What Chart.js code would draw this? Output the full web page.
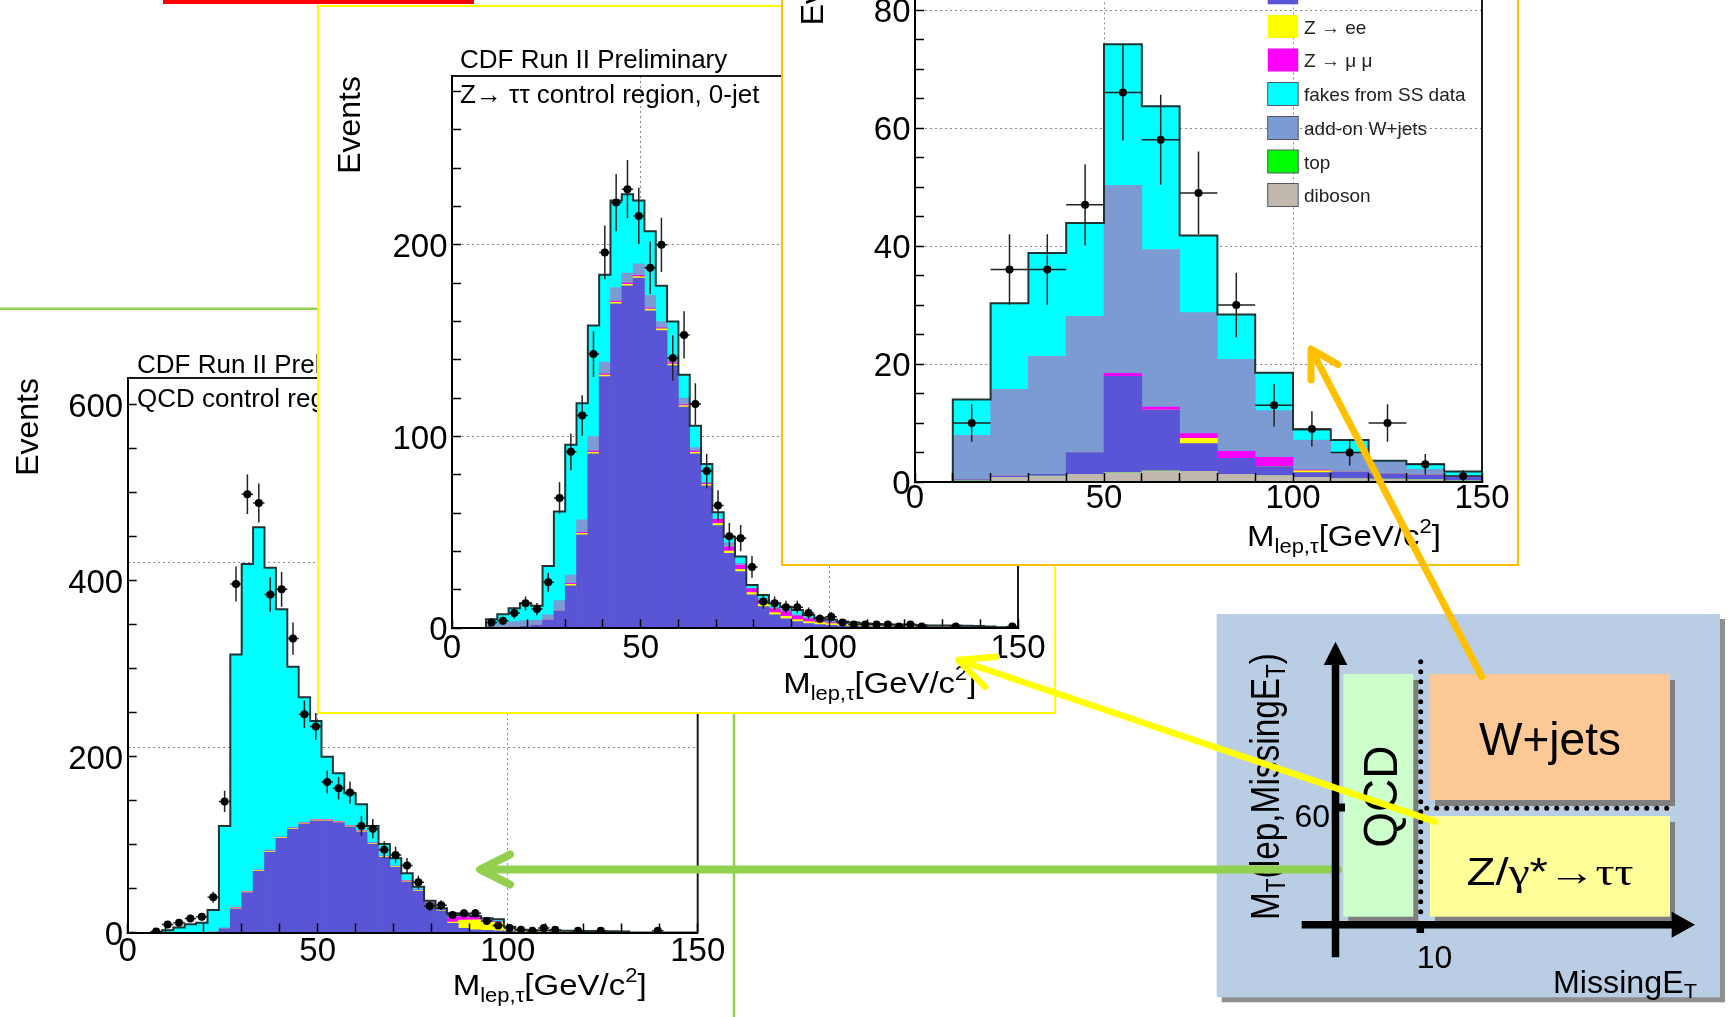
<!DOCTYPE html>
<html lang="en">
<head>
<meta charset="utf-8">
<title>CDF control regions</title>
<script src="https://cdn.jsdelivr.net/npm/chart.js@4.4.1/dist/chart.umd.min.js"></script>
<style>
  html, body { margin: 0; padding: 0; background: #fff; }
  body { position: relative; width: 1730px; height: 1017px; overflow: hidden; }
  canvas, svg, .panel { position: absolute; }
  svg { left: 0; top: 0; overflow: visible; font-family: 'Liberation Sans', Arial, sans-serif; fill: #000; }
  .panel { background: #fff; box-sizing: border-box; }
  #panel2 { left: 316.7px; top: 5.3px; width: 739px; height: 708.7px; border: 2px solid #ffff00; }
  #panel3 { left: 780.7px; top: -20px; width: 738.3px; height: 586px; border: 2px solid #ffc000; }
</style>
</head>
<body>

<!-- QCD control region (bottom layer) -->
<canvas id="qcdChart"></canvas>
<svg width="1730" height="1017">
  <rect x="163" y="0" width="311" height="4" fill="#ff0000"/>
  <line x1="0" y1="308.7" x2="735" y2="308.7" stroke="#92d050" stroke-width="2.5"/>
  <line x1="734" y1="308" x2="734" y2="1017" stroke="#92d050" stroke-width="2.5"/>
  <text x="137" y="373" font-size="26">CDF Run II Preliminary</text>
  <text x="137" y="407" font-size="26">QCD control region, 0-jet</text>
  <text transform="translate(38,378) rotate(-90)" text-anchor="end" font-size="32">Events</text>
  <text x="452.7" y="995" font-size="30" textLength="194" lengthAdjust="spacingAndGlyphs">M<tspan font-size="20" dy="7">lep,τ</tspan><tspan dy="-7">[GeV/c</tspan><tspan font-size="20" dy="-13">2</tspan><tspan dy="13">]</tspan></text>
</svg>

<!-- Z -> tautau control region -->
<div class="panel" id="panel2"></div>
<canvas id="zttChart"></canvas>
<svg width="1730" height="1017">
  <text x="460" y="68.3" font-size="26">CDF Run II Preliminary</text>
  <text x="460" y="103.3" font-size="26">Z→ ττ control region, 0-jet</text>
  <text transform="translate(360,76) rotate(-90)" text-anchor="end" font-size="32">Events</text>
  <text x="783.3" y="693.3" font-size="30" textLength="193" lengthAdjust="spacingAndGlyphs">M<tspan font-size="20" dy="7">lep,τ</tspan><tspan dy="-7">[GeV/c</tspan><tspan font-size="20" dy="-13">2</tspan><tspan dy="13">]</tspan></text>
</svg>

<!-- W+jets control region -->
<div class="panel" id="panel3"></div>
<canvas id="wjetsChart"></canvas>
<svg width="1730" height="1017">
  <text transform="translate(823,-72.6) rotate(-90)" text-anchor="end" font-size="32">Events</text>
  <text x="1247" y="546" font-size="30" textLength="194" lengthAdjust="spacingAndGlyphs">M<tspan font-size="20" dy="7">lep,τ</tspan><tspan dy="-7">[GeV/c</tspan><tspan font-size="20" dy="-13">2</tspan><tspan dy="13">]</tspan></text>
  <g font-size="19" fill="#222">
    <circle cx="1283" cy="-41" r="4" fill="#000"/><text x="1304" y="-34">data</text>
    <rect x="1267.7" y="-18.7" width="30.5" height="23" fill="#5a55d6"/><text x="1304" y="-0.2">Z → ττ</text>
    <rect x="1267.7" y="15" width="30.5" height="23" fill="#ffff00"/><text x="1304" y="33.5">Z → ee</text>
    <rect x="1267.7" y="48.5" width="30.5" height="23" fill="#ff00ff"/><text x="1304" y="67">Z → μ μ</text>
    <rect x="1267.7" y="82.5" width="30.5" height="23" fill="#00ffff" stroke="#556" stroke-width="1"/><text x="1304" y="101">fakes from SS data</text>
    <rect x="1267.7" y="116.5" width="30.5" height="23" fill="#7b9bd2" stroke="#556" stroke-width="1"/><text x="1304" y="135">add-on W+jets</text>
    <rect x="1267.7" y="150" width="30.5" height="23" fill="#00ff00" stroke="#556" stroke-width="1"/><text x="1304" y="168.5">top</text>
    <rect x="1267.7" y="183.5" width="30.5" height="23" fill="#c1b9ae" stroke="#556" stroke-width="1"/><text x="1304" y="202">diboson</text>
  </g>
</svg>

<!-- region diagram and arrows (top layer) -->
<svg width="1730" height="1017">
  <rect x="1221.7" y="619" width="503.3" height="383.3" fill="#8f8f8f"/>
  <rect x="1216.7" y="614" width="503.3" height="383.3" fill="#b9cde5"/>

  <rect x="1348.3" y="680" width="70" height="242.7" fill="#7f7f7f"/>
  <rect x="1343.3" y="674" width="70" height="242.7" fill="#ccffcc"/>
  <rect x="1435" y="680" width="240" height="126" fill="#7f7f7f"/>
  <rect x="1430" y="674" width="240" height="126" fill="#fcc996"/>
  <rect x="1435" y="822" width="240" height="100.7" fill="#7f7f7f"/>
  <rect x="1430" y="816" width="240" height="100.7" fill="#ffff99"/>

  <text transform="translate(1279,920) rotate(-90)" font-size="40" textLength="267" lengthAdjust="spacingAndGlyphs">M<tspan font-size="27" dy="6">T</tspan><tspan dy="-6">(lep,MissingE</tspan><tspan font-size="27" dy="6">T</tspan><tspan dy="-6">)</tspan></text>
  <text x="1553" y="993" font-size="31" textLength="144" lengthAdjust="spacingAndGlyphs">MissingE<tspan font-size="21" dy="5">T</tspan></text>
  <text x="1330" y="826.5" font-size="32" text-anchor="end">60</text>
  <text x="1416.7" y="968" font-size="32">10</text>
  <text transform="translate(1396.7,796.7) rotate(-90)" font-size="48" text-anchor="middle" textLength="102" lengthAdjust="spacingAndGlyphs">QCD</text>
  <text x="1550" y="755" font-size="46" text-anchor="middle" textLength="142" lengthAdjust="spacingAndGlyphs">W+jets</text>
  <text x="1550" y="885" font-size="38" text-anchor="middle" textLength="167" lengthAdjust="spacingAndGlyphs">Z/<tspan font-family="Liberation Serif">γ</tspan>*<tspan font-family="Liberation Serif">→ττ</tspan></text>

  <g stroke="#92d050" stroke-width="8" stroke-linecap="round" stroke-linejoin="round" fill="none">
    <line x1="1338" y1="869.5" x2="483" y2="869.5"/>
    <polyline points="510,854.5 480,869.5 510,884.5"/>
  </g>

  <line x1="1335.5" y1="660" x2="1335.5" y2="957.3" stroke="#000" stroke-width="7.5"/>
  <polygon points="1335.5,641.7 1323.7,665 1347.3,665" fill="#000"/>
  <line x1="1301.7" y1="924.7" x2="1675" y2="924.7" stroke="#000" stroke-width="7.5"/>
  <polygon points="1695,924.7 1671.7,911.7 1671.7,937.7" fill="#000"/>
  <line x1="1335" y1="807.5" x2="1345" y2="807.5" stroke="#000" stroke-width="8"/>
  <line x1="1420.3" y1="921" x2="1420.3" y2="933" stroke="#000" stroke-width="7.5"/>
  <g stroke="#000" stroke-width="5" stroke-linecap="round" stroke-dasharray="0 10" fill="none">
    <line x1="1420.7" y1="661.7" x2="1420.7" y2="918"/>
    <line x1="1426.7" y1="808.3" x2="1671.7" y2="808.3"/>
  </g>

  <g stroke="#ffff00" stroke-width="6.5" stroke-linecap="round" stroke-linejoin="round" fill="none">
    <line x1="1435" y1="821.7" x2="961" y2="661"/>
    <polyline points="996.7,656.7 958.3,660 985,686.7"/>
  </g>
  <g stroke="#ffc000" stroke-width="7" stroke-linecap="round" stroke-linejoin="round" fill="none">
    <line x1="1481.7" y1="676.7" x2="1312" y2="351"/>
    <polyline points="1338,364.5 1311,349 1311,380"/>
  </g>
</svg>

<script>
const FONT = "'Liberation Sans', Arial, sans-serif";
Chart.defaults.font.family = FONT;

// ---------- data ----------
// 3 GeV mass bins (centres) used in the QCD and Z->tautau control regions
const massBins3 = [7.5, 10.5, 13.5, 16.5, 19.5, 22.5, 25.5, 28.5, 31.5, 34.5, 37.5, 40.5,
  43.5, 46.5, 49.5, 52.5, 55.5, 58.5, 61.5, 64.5, 67.5, 70.5, 73.5, 76.5,
  79.5, 82.5, 85.5, 88.5, 91.5, 94.5, 97.5, 100.5, 103.5, 106.5, 109.5, 112.5,
  115.5, 118.5, 121.5, 124.5, 127.5, 130.5, 133.5, 136.5, 139.5, 142.5, 145.5, 148.5];
// 10 GeV mass bins (centres) used in the W+jets control region
const massBins10 = [15, 25, 35, 45, 55, 65, 75, 85, 95, 105, 115, 125, 135, 145];

// QCD control region, 0-jet
const qcdZtt = [0, 0, 0, 0, 0, 0.5, 4.5, 27, 45.5, 69.5, 91.5, 107, 117.5, 123.5, 127, 127,
  125, 120, 114.5, 100.5, 85.5, 74, 57.5, 47, 34, 24.5, 10.4, 4.7, 2.9, 2.5, 2, 1.5,
  0.5, 0.3, 0.2, 0.2, 0.2, 0.1, 0.1, 0.1, 0, 0, 0, 0, 0, 0, 0, 0];
const qcdZee = [0, 0, 0, 0, 0, 0, 0.3, 0.8, 0.8, 0.8, 0.8, 0.8, 0.8, 0.8, 0.8, 0.8,
  0.8, 0.8, 0.8, 0.8, 0.8, 0.8, 0.8, 0.8, 0.8, 0.8, 1.5, 9.5, 11.4, 9.5, 9.5, 4,
  2, 2, 1.8, 1.8, 1.6, 1.5, 1.5, 1.3, 1.2, 0.8, 0, 0, 0, 0, 0, 0];
const qcdZmm = [0, 0, 0, 0, 0, 0, 0.2, 0.6, 0.6, 0.6, 0.6, 0.6, 0.6, 0.6, 0.6, 0.6,
  0.6, 0.6, 0.6, 0.6, 0.6, 0.6, 0.6, 0.6, 0.6, 0.6, 5.7, 4, 3, 2, 1, 0.3,
  0, 0, 0, 0, 0, 0, 0, 0, 0, 0, 0, 0, 0, 0, 0, 0];
const qcdFakes = [0, 2.6, 5.7, 9.4, 11, 25.1, 116, 287.6, 371.9, 389.5, 321.7, 258.8, 183.1, 142.3, 111.9, 71.4,
  54.5, 36.7, 29.7, 19.1, 13.7, 8.9, 8.3, 3.7, 0.8, 1.6, 4.2, 1.7, 1.5, 2.1, 2.5, 0.8,
  0.5, 0.2, 0.2, 0.2, 0.2, 0.2, 0.2, 0.2, 0.2, 0.2, 0, 0, 0, 0, 0, 0];
const qcdData = [1, 9, 11, 16, 18, 40, 149, 396, 498, 488, 384, 390, 334, 248, 234, 171,
  164, 159, 121, 118, 94, 88, 76, 57, 30, 31, 20, 22, 22, 13, 8, 5,
  3, 2, 5, 3, null, 2, null, 2, null, null, null, null, 2, null, null, null];

// Z -> tautau control region, 0-jet
const zttDiboson = [0, 0, 0, 0, 0, 0, 0, 0, 0, 0.5, 0.5, 0.5, 0.5, 0.5, 0.5, 0.5,
  0.5, 0.5, 0.5, 0.5, 0, 0, 0, 0, 0, 0, 0, 0, 0, 0, 0, 0,
  0, 0, 0, 0, 0, 0, 0, 0, 0, 0, 0, 0, 0, 0, 0, 0];
const zttZtt = [0, 0.5, 0.5, 0.7, 1, 1.7, 4.3, 9, 22.1, 48.2, 90.5, 130.8, 168.7, 178.1, 182.1, 165.1,
  154.8, 136.5, 114.8, 90.5, 74.3, 53.6, 39.1, 29.6, 17.4, 11.3, 7, 5, 3.5, 2.5, 2, 1.5,
  1.2, 1, 0.9, 0.8, 0.8, 0.8, 0.7, 0.7, 0.7, 0.7, 0.7, 0.6, 0.6, 0.5, 0.3, 0.3];
const zttZee = [0, 0, 0, 0, 0, 0, 0, 0, 0.8, 0.8, 0.8, 0.8, 0.8, 0.8, 0.8, 0.8,
  0.8, 0.8, 0.8, 0.8, 0.8, 1.2, 1.2, 1.2, 1.2, 1.2, 1.2, 1.2, 1, 1, 1, 1,
  0.8, 0.6, 0.5, 0.4, 0.3, 0.3, 0.3, 0.2, 0.1, 0.1, 0.1, 0, 0, 0, 0, 0];
const zttZmm = [0, 0, 0, 0, 0, 0, 0, 0, 0.6, 0.6, 0.6, 0.6, 0.6, 0.6, 0.6, 0.6,
  0.6, 0.6, 0.6, 0.6, 0.6, 2, 2, 2, 2, 2, 2, 2.5, 2, 1.5, 1, 0.5,
  0.3, 0.2, 0, 0, 0, 0, 0, 0, 0, 0, 0, 0, 0, 0, 0, 0];
const zttWjets = [0, 1.2, 2.5, 2.8, 3, 2.6, 2.7, 5.4, 4.3, 6.4, 7.6, 6.1, 7.1, 5.2, 6.1, 6.6,
  3.3, 3, 3.3, 1.9, 0, 0.1, 2.4, 1.1, 0.3, 1.2, 0.8, 0.6, 0.5, 0.5, 0.5, 0.5,
  0.4, 0.4, 0.4, 0.4, 0.4, 0.4, 0.4, 0.4, 0.4, 0.4, 0.4, 0.4, 0.3, 0.3, 0.2, 0.1];
const zttFakes = [0, 3, 4.3, 6.9, 9, 7.4, 25.5, 46.5, 67.9, 60.9, 57.9, 45.5, 45.4, 41.2, 33, 33.4,
  18.6, 18.6, 12.2, 11.3, 10, 3.6, 3.1, 3.5, 1.7, 1.7, 2, 2, 2.5, 1.5, 1, 1,
  0.8, 0.8, 0.7, 0.6, 0.5, 0.5, 0.4, 0.3, 0.3, 0.3, 0.3, 0.3, 0.3, 0.2, 0.1, 0.1];
const zttData = [null, 3, 4, 8, 13, 10, 24, 68, 92, 111, 143, 196, 222, 229, 215, 188,
  200, 141, 153, 117, 82, 64, 48, 47, 32, 14, 13, 11, 11, 8, 5, 6,
  3, 2, 2, 2, 2, 1, 2, 1, null, null, 1, null, null, null, null, 1];

// W+jets control region
const wjDiboson = [0.2, 0.8, 1, 1.3, 1.6, 1.9, 1.8, 1.3, 1.1, 0.8, 0.6, 0.5, 0.4, 0.2];
const wjTop = [0, 0, 0, 0, 0, 0, 0, 0, 0, 0, 0, 0, 0, 0];
const wjZtt = [0.2, 0.2, 0.3, 3.7, 16.3, 10.3, 4.7, 2.7, 1.5, 0.8, 1.1, 0.9, 0.8, 0.6];
const wjZee = [0, 0, 0, 0, 0, 0, 0.9, 0, 0, 0.3, 0, 0, 0, 0];
const wjZmm = [0, 0, 0, 0, 0.5, 0.5, 0.8, 1.2, 1.6, 0.1, 0, 0, 0, 0];
const wjWjets = [7.5, 14.7, 20, 23.1, 31.9, 26.7, 20.5, 15.6, 7.9, 5.1, 3.2, 2, 1, 0.3];
const wjFakes = [6.1, 14.6, 17.5, 15.8, 23.9, 24.3, 13.1, 7.6, 6.4, 1.8, 2.2, 0.2, 0.8, 0.7];
const wjData = [10, 36, 36, 47, 66, 58, 49, 30, 13, 9, 5, 10, 3, 1];

const sampleColors = {
  diboson: '#c1b9ae', top: '#00ff00', ztt: '#5a55d6', zee: '#ffff00',
  zmm: '#ff00ff', wjets: '#7b9bd2', fakes: '#00ffff'
};

// top and right edges of the ROOT frame
const framePlugin = {
  id: 'rootFrame',
  afterDatasetsDraw(chart) {
    const { ctx, chartArea: a } = chart;
    ctx.save();
    ctx.strokeStyle = '#1a1a1a';
    ctx.lineWidth = 2;
    ctx.beginPath();
    ctx.moveTo(a.left, a.top);
    ctx.lineTo(a.right, a.top);
    ctx.lineTo(a.right, a.bottom);
    ctx.stroke();
    ctx.restore();
  }
};

function drawHist(canvasId, box, area, h) {
  const canvas = document.getElementById(canvasId);
  canvas.width = box.w;
  canvas.height = box.h;
  Object.assign(canvas.style, { left: box.x + 'px', top: box.y + 'px', width: box.w + 'px', height: box.h + 'px' });

  const yAxisW = 90, xAxisH = 60;
  const half = h.binWidth / 2;

  const bars = h.stack.map(s => ({
    type: 'bar',
    label: s.label,
    data: h.bins.map((c, i) => ({ x: c, y: s.values[i] })),
    backgroundColor: s.color,
    borderWidth: 0,
    barPercentage: 1,
    categoryPercentage: 1,
    grouped: false,
    stack: 'mc',
    xAxisID: 'x',
    yAxisID: 'y'
  }));

  // outline of the summed stack
  const totals = h.bins.map((_, i) => h.stack.reduce((t, s) => t + s.values[i], 0));
  const first = totals.findIndex(v => v > 0);
  const outline = [{ x: h.bins[first] - half, y: 0 }];
  for (let i = first; i < h.bins.length; i++) {
    outline.push({ x: h.bins[i] - half, y: totals[i] }, { x: h.bins[i] + half, y: totals[i] });
  }
  outline.push({ x: h.bins[h.bins.length - 1] + half, y: 0 });

  // data points with sqrt(N) errors
  const errY = [], errX = [], points = [];
  h.data.forEach((n, i) => {
    if (n == null) return;
    const c = h.bins[i], e = Math.sqrt(n);
    points.push({ x: c, y: n });
    errY.push({ x: c, y: Math.max(n - e, 0) }, { x: c, y: n + e }, { x: c, y: null });
    errX.push({ x: c - half, y: n }, { x: c + half, y: n }, { x: c, y: null });
  });

  const lineBase = { type: 'line', xAxisID: 'xg', yAxisID: 'yg', pointRadius: 0, fill: false, spanGaps: false };
  const datasets = [
    ...bars,
    { ...lineBase, label: 'total', data: outline, borderColor: '#1f3535', borderWidth: 2, order: -1 },
    { ...lineBase, label: 'err y', data: errY, borderColor: '#222', borderWidth: 1.5, order: -2 },
    { ...lineBase, label: 'err x', data: errX, borderColor: '#222', borderWidth: 1.5, order: -2 },
    { ...lineBase, label: 'data', data: points, showLine: false, pointRadius: 4,
      pointBackgroundColor: '#000', pointBorderColor: '#000', pointBorderWidth: 0, order: -3 }
  ];

  const tickFont = { family: FONT, size: 33 };
  const gridColor = (lo, hi) => ctx =>
    (ctx.tick && ctx.tick.value > lo && ctx.tick.value < hi) ? '#8a8a8a' : 'rgba(0,0,0,0)';

  const scales = {
    x: {
      type: 'linear', position: 'bottom', min: 0, max: 150, offset: false, stacked: true,
      grid: { offset: false, drawOnChartArea: false, tickLength: -9, tickColor: '#000', tickWidth: 1.5, z: 1 },
      border: { display: true, color: '#000', width: 2, z: 1 },
      ticks: { stepSize: 10, autoSkip: false, includeBounds: false, maxRotation: 0, minRotation: 0,
        padding: h.xPad, color: '#000', font: tickFont,
        callback: v => (v % 50 === 0 ? String(v) : '') },
      afterFit: sc => { sc.height = xAxisH; sc.paddingLeft = 0; sc.paddingRight = 0; }
    },
    xg: {
      type: 'linear', position: 'bottom', min: 0, max: 150, offset: false,
      grid: { offset: false, drawTicks: false, color: gridColor(0, 150), lineWidth: 1, z: -1 },
      border: { display: false, dash: [2, 3] },
      ticks: { display: false, stepSize: 50, includeBounds: false }
    },
    y: {
      type: 'linear', position: 'left', min: 0, max: h.yMax, stacked: true,
      grid: { drawOnChartArea: false, tickLength: -9, tickColor: '#000', tickWidth: 1.5, z: 1 },
      border: { display: true, color: '#000', width: 2, z: 1 },
      ticks: { stepSize: h.yStep, autoSkip: false, includeBounds: false, padding: 13.5, labelOffset: 3,
        color: '#000', font: tickFont,
        callback: v => (v % h.yMajor === 0 ? String(v) : '') },
      afterFit: sc => { sc.width = yAxisW; sc.paddingTop = 0; sc.paddingBottom = 0; }
    },
    yg: {
      type: 'linear', position: 'left', min: 0, max: h.yMax,
      grid: { drawTicks: false, color: gridColor(0, h.yMax), lineWidth: 1, z: -1 },
      border: { display: false, dash: [2, 3] },
      ticks: { display: false, stepSize: h.yMajor, includeBounds: false }
    }
  };

  return new Chart(canvas, {
    type: 'bar',
    data: { datasets },
    options: {
      responsive: false,
      animation: false,
      devicePixelRatio: 1,
      events: [],
      datasets: { bar: { barPercentage: 1, categoryPercentage: 1, grouped: false } },
      layout: {
        autoPadding: false,
        padding: {
          left: area.left - box.x - yAxisW,
          right: box.x + box.w - area.right,
          top: area.top - box.y,
          bottom: box.y + box.h - area.bottom - xAxisH
        }
      },
      plugins: { legend: { display: false }, tooltip: { enabled: false } },
      scales
    },
    plugins: [framePlugin]
  });
}

drawHist('qcdChart',
  { x: 0, y: 320, w: 730, h: 697 },
  { left: 127.7, right: 697.7, top: 378.1, bottom: 932.5 },
  {
    bins: massBins3, binWidth: 3, yMax: 630, yStep: 50, yMajor: 200, xPad: 8.3,
    stack: [
      { label: 'Z → ττ', values: qcdZtt, color: sampleColors.ztt },
      { label: 'Z → ee', values: qcdZee, color: sampleColors.zee },
      { label: 'Z → μμ', values: qcdZmm, color: sampleColors.zmm },
      { label: 'fakes from SS data', values: qcdFakes, color: sampleColors.fakes }
    ],
    data: qcdData
  });

drawHist('zttChart',
  { x: 320, y: 40, w: 732, h: 672 },
  { left: 452, right: 1018, top: 76, bottom: 628.3 },
  {
    bins: massBins3, binWidth: 3, yMax: 288, yStep: 20, yMajor: 100, xPad: 10.1,
    stack: [
      { label: 'diboson', values: zttDiboson, color: '#222' },
      { label: 'Z → ττ', values: zttZtt, color: sampleColors.ztt },
      { label: 'Z → ee', values: zttZee, color: sampleColors.zee },
      { label: 'Z → μμ', values: zttZmm, color: sampleColors.zmm },
      { label: 'add-on W+jets', values: zttWjets, color: sampleColors.wjets },
      { label: 'fakes from SS data', values: zttFakes, color: sampleColors.fakes }
    ],
    data: zttData
  });

drawHist('wjetsChart',
  { x: 783, y: -120, w: 734, h: 684 },
  { left: 915, right: 1482, top: -72.6, bottom: 482 },
  {
    bins: massBins10, binWidth: 10, yMax: 94, yStep: 5, yMajor: 20, xPad: 6.4,
    stack: [
      { label: 'diboson', values: wjDiboson, color: sampleColors.diboson },
      { label: 'top', values: wjTop, color: sampleColors.top },
      { label: 'Z → ττ', values: wjZtt, color: sampleColors.ztt },
      { label: 'Z → ee', values: wjZee, color: sampleColors.zee },
      { label: 'Z → μμ', values: wjZmm, color: sampleColors.zmm },
      { label: 'add-on W+jets', values: wjWjets, color: sampleColors.wjets },
      { label: 'fakes from SS data', values: wjFakes, color: sampleColors.fakes }
    ],
    data: wjData
  });
</script>
</body>
</html>
